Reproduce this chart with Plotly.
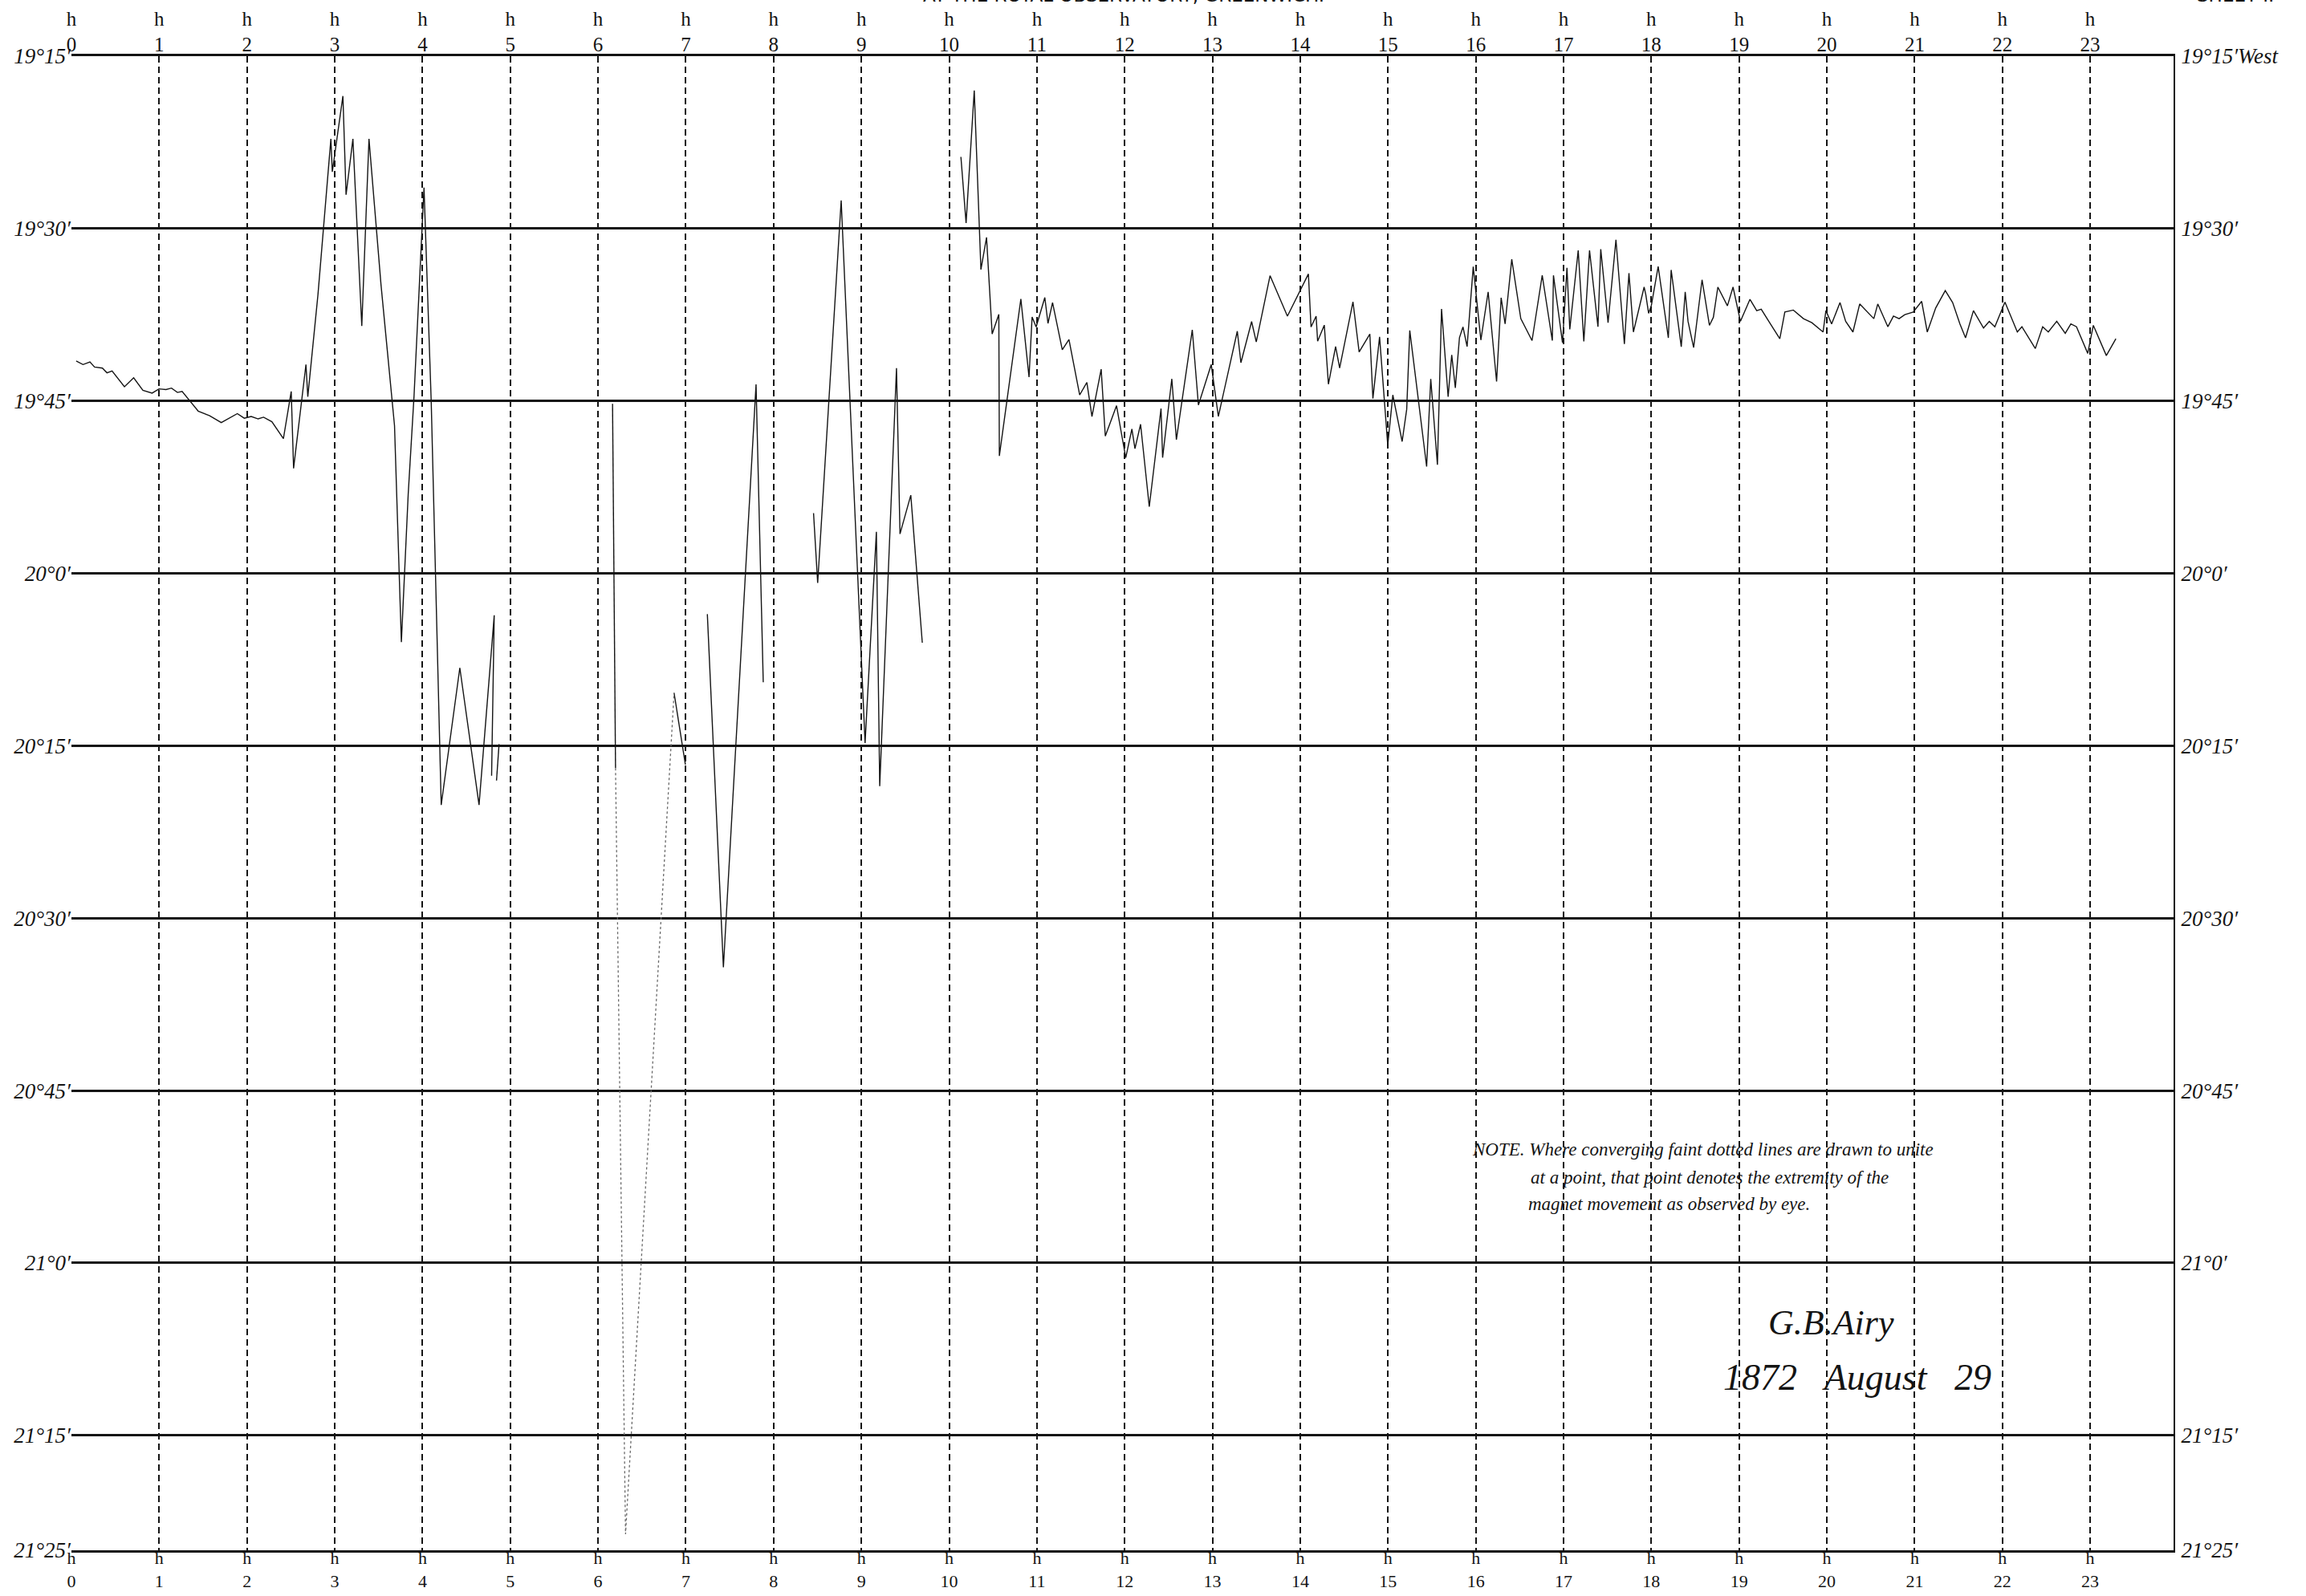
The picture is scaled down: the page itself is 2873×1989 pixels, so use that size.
import plotly.graph_objects as go

# ---------------- axis values ----------------
hour_ticks = list(range(24))
hour_labels = ["h<br>" + str(h) for h in hour_ticks]

# declination expressed in arc-minutes beyond 19 degrees (increasing West, plotted downward)
decl_ticks = [15, 30, 45, 60, 75, 90, 105, 120, 135, 145]
decl_labels_left = ["19°15′", "19°30′", "19°45′", "20°0′", "20°15′",
                    "20°30′", "20°45′", "21°0′", "21°15′", "21°25′"]
decl_labels_right = ["19°15′West", "19°30′", "19°45′", "20°0′", "20°15′",
                     "20°30′", "20°45′", "21°0′", "21°15′", "21°25′"]

# ---------------- traced record (hour, arc-minutes past 19°) ----------------
seg_a = [(0.054, 41.52), (0.132, 41.83), (0.211, 41.61), (0.263, 42.05), (0.353, 42.14),
         (0.405, 42.55), (0.463, 42.39), (0.604, 43.76), (0.709, 42.98), (0.814, 44.07),
         (0.919, 44.32), (0.998, 43.95), (1.077, 44.01), (1.140, 43.88), (1.208, 44.26),
         (1.261, 44.17), (1.444, 45.88), (1.497, 46.03), (1.575, 46.28), (1.707, 46.88),
         (1.890, 46.10), (1.969, 46.50), (2.048, 46.35), (2.127, 46.56), (2.189, 46.41),
         (2.284, 46.81), (2.415, 48.28), (2.504, 44.17), (2.531, 50.86), (2.672, 41.83),
         (2.693, 44.63), (2.809, 35.73), (2.956, 22.20), (2.972, 25.07), (3.093, 18.47),
         (3.129, 27.06), (3.207, 22.20), (3.308, 38.48), (3.390, 22.20), (3.527, 34.89),
         (3.681, 47.15), (3.759, 65.98), (3.837, 53.08), (3.903, 44.62), (4.017, 26.43),
         (4.099, 45.04), (4.213, 80.15), (4.425, 68.22), (4.644, 80.15), (4.817, 63.65),
         (4.787, 77.61)]
seg_a_tail = [(4.872, 74.86), (4.843, 78.03)]

seg_b = [(6.165, 45.25), (6.199, 76.95)]
seg_b_eye = [(6.199, 76.95), (6.313, 143.6), (6.866, 70.40)]
seg_b_end = [(6.866, 70.40), (6.995, 76.64)]

seg_c = [(7.245, 63.55), (7.428, 94.28), (7.800, 43.55), (7.882, 69.47)]

seg_d = [(8.455, 54.76), (8.502, 60.84), (8.770, 27.56), (9.042, 74.77), (9.171, 56.38),
         (9.209, 78.51), (9.400, 42.14), (9.440, 56.57), (9.563, 53.20), (9.694, 66.04)]

seg_e = [(10.134, 23.76), (10.193, 29.52), (10.286, 17.99), (10.362, 33.57), (10.426, 30.77),
         (10.490, 39.18), (10.566, 37.47), (10.572, 49.78), (10.817, 36.13), (10.910, 42.92),
         (10.945, 37.69), (10.991, 38.56), (11.090, 36.00), (11.126, 38.25), (11.178, 36.44),
         (11.289, 40.55), (11.365, 39.65), (11.487, 44.48), (11.569, 43.39), (11.627, 46.35),
         (11.732, 42.23), (11.779, 48.06), (11.907, 45.41), (12.012, 49.93), (12.082, 47.44),
         (12.117, 49.15), (12.181, 47.03), (12.280, 54.20), (12.414, 45.66), (12.432, 49.93),
         (12.537, 43.08), (12.589, 48.37), (12.770, 38.81), (12.840, 45.35), (12.986, 41.83),
         (13.067, 46.35), (13.283, 38.93), (13.324, 41.67), (13.446, 38.09), (13.499, 39.87),
         (13.656, 34.10), (13.854, 37.62), (14.093, 33.95), (14.123, 38.56), (14.181, 37.62),
         (14.198, 39.80), (14.274, 38.40), (14.321, 43.54), (14.403, 40.27), (14.449, 42.14),
         (14.601, 36.38), (14.671, 40.74), (14.793, 39.18), (14.828, 44.79), (14.904, 39.43),
         (14.997, 48.84), (15.055, 44.48), (15.161, 48.53), (15.213, 45.73), (15.248, 38.87),
         (15.440, 50.71), (15.487, 43.08), (15.563, 50.55), (15.610, 37.00), (15.685, 44.63),
         (15.726, 40.99), (15.767, 43.86), (15.814, 39.49), (15.854, 38.56), (15.901, 40.27),
         (15.971, 33.32), (16.058, 39.70), (16.141, 35.51), (16.237, 43.31), (16.289, 36.02),
         (16.334, 38.30), (16.410, 32.67), (16.513, 37.84), (16.641, 39.75), (16.757, 34.07),
         (16.872, 39.75), (16.885, 34.07), (16.988, 39.93), (17.039, 33.42), (17.071, 38.77),
         (17.167, 31.90), (17.231, 39.82), (17.296, 31.90), (17.392, 38.54), (17.424, 31.79),
         (17.507, 38.19), (17.597, 30.97), (17.693, 40.05), (17.745, 33.88), (17.796, 39.00),
         (17.860, 36.91), (17.918, 35.09), (17.937, 35.74), (17.969, 37.37), (18.001, 36.67),
         (18.078, 33.30), (18.194, 39.51), (18.226, 33.60), (18.341, 40.28), (18.386, 35.51),
         (18.418, 38.07), (18.482, 40.35), (18.578, 34.46), (18.662, 38.42), (18.707, 37.72),
         (18.758, 35.09), (18.867, 36.72), (18.931, 35.09), (19.015, 38.07), (19.124, 36.16),
         (19.201, 37.14), (19.252, 37.02), (19.348, 38.19), (19.464, 39.58), (19.521, 37.26),
         (19.618, 37.09), (19.733, 37.84), (19.829, 38.19), (19.957, 39.00), (19.989, 37.14),
         (20.054, 38.30), (20.150, 36.44), (20.214, 38.07), (20.297, 39.00), (20.374, 36.56),
         (20.471, 37.37), (20.535, 37.84), (20.580, 36.56), (20.695, 38.54), (20.759, 37.61),
         (20.823, 37.84), (20.888, 37.49), (20.984, 37.26), (21.080, 36.33), (21.144, 39.00),
         (21.240, 36.91), (21.349, 35.39), (21.433, 36.44), (21.516, 38.30), (21.580, 39.51),
         (21.670, 37.14), (21.785, 38.65), (21.850, 38.07), (21.914, 38.54), (22.029, 36.40),
         (22.170, 39.00), (22.222, 38.54), (22.375, 40.44), (22.459, 38.54), (22.523, 39.00),
         (22.619, 38.07), (22.716, 39.12), (22.780, 38.30), (22.844, 38.54), (22.972, 40.86),
         (23.036, 38.42), (23.184, 41.05), (23.293, 39.58)]

solid_segments = [seg_a, seg_a_tail, seg_b, seg_b_end, seg_c, seg_d, seg_e]
eye_segments = [seg_b_eye]

INK = "#141414"
SERIF = "Liberation Serif"

fig = go.Figure()
for seg in solid_segments:
    fig.add_trace(go.Scatter(x=[p[0] for p in seg], y=[p[1] for p in seg], mode="lines",
                             line=dict(color=INK, width=1.4), hoverinfo="skip", showlegend=False))
for seg in eye_segments:
    fig.add_trace(go.Scatter(x=[p[0] for p in seg], y=[p[1] for p in seg], mode="lines",
                             line=dict(color="#6a6a6a", width=1.3, dash="dot"),
                             hoverinfo="skip", showlegend=False))
# empty traces so the top hour scale and the right declination scale are drawn
fig.add_trace(go.Scatter(x=[None], y=[None], xaxis="x2", yaxis="y", showlegend=False, hoverinfo="skip"))
fig.add_trace(go.Scatter(x=[None], y=[None], xaxis="x", yaxis="y2", showlegend=False, hoverinfo="skip"))

fig.update_layout(
    width=2873, height=1989,
    margin=dict(l=89, r=165, t=70, b=57, autoexpand=False),
    paper_bgcolor="white", plot_bgcolor="white",
    xaxis=dict(range=[0, 23.95], tickvals=hour_ticks, ticktext=hour_labels,
               tickfont=dict(family=SERIF, size=22, color=INK),
               showgrid=True, gridcolor=INK, gridwidth=1.8, griddash="8px,5px",
               zeroline=False, showline=True, mirror=True, linecolor=INK, linewidth=2.6,
               ticks="", ticklabelstandoff=-12, automargin=False, fixedrange=True),
    xaxis2=dict(overlaying="x", side="top", matches="x", anchor="y",
                tickvals=hour_ticks, ticktext=hour_labels,
                tickfont=dict(family=SERIF, size=25, color=INK),
                showgrid=False, zeroline=False, showline=False, ticks="",
                ticklabelstandoff=0, automargin=False),
    yaxis=dict(range=[145, 15], tickvals=decl_ticks, ticktext=decl_labels_left,
               tickfont=dict(family=SERIF, size=27, color=INK, style="italic"),
               showgrid=True, gridcolor=INK, gridwidth=2.6, zeroline=False,
               showline=False, ticks="", ticklabelstandoff=0, automargin=False),
    yaxis2=dict(overlaying="y", side="right", matches="y", anchor="x",
                tickvals=decl_ticks, ticktext=decl_labels_right,
                tickfont=dict(family=SERIF, size=27, color=INK, style="italic"),
                showgrid=False, zeroline=False, showline=True, linecolor=INK, linewidth=2,
                ticks="", ticklabelstandoff=2, automargin=False),
)

note_font = dict(family=SERIF, size=23, color=INK, style="italic")
annotations = [
    dict(x=0.6655, y=0.268, xref="paper", yref="paper", xanchor="left", yanchor="middle",
         text="NOTE. Where converging faint dotted lines are drawn to unite",
         showarrow=False, font=note_font),
    dict(x=0.6934, y=0.2497, xref="paper", yref="paper", xanchor="left", yanchor="middle",
         text="at a point, that point denotes the extremity of the",
         showarrow=False, font=note_font),
    dict(x=0.6922, y=0.232, xref="paper", yref="paper", xanchor="left", yanchor="middle",
         text="magnet movement as observed by eye.",
         showarrow=False, font=note_font),
    dict(x=0.837, y=0.152, xref="paper", yref="paper", xanchor="center", yanchor="middle",
         text="G.B.Airy", showarrow=False,
         font=dict(family=SERIF, size=44, color=INK, style="italic")),
    dict(x=0.8495, y=0.1155, xref="paper", yref="paper", xanchor="center", yanchor="middle",
         text="1872   August   29", showarrow=False,
         font=dict(family=SERIF, size=46, color=INK, style="italic")),
    dict(x=0.5006, y=1.041, xref="paper", yref="paper", xanchor="center", yanchor="middle",
         text="AT THE ROYAL OBSERVATORY, GREENWICH.", showarrow=False,
         font=dict(family="DejaVu Sans", size=23, color=INK)),
    dict(x=1.0103, y=1.041, xref="paper", yref="paper", xanchor="left", yanchor="middle",
         text="SHEET I.", showarrow=False,
         font=dict(family="DejaVu Sans", size=23, color=INK)),
]
fig.update_layout(annotations=annotations)

fig.write_html("out.html")
